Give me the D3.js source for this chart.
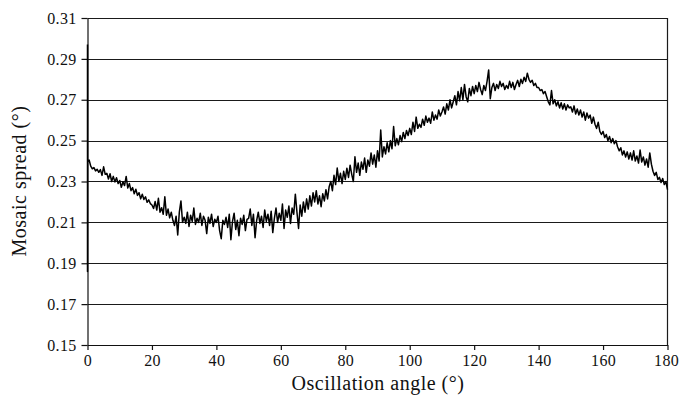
<!DOCTYPE html>
<html>
<head>
<meta charset="utf-8">
<script src="https://cdn.jsdelivr.net/npm/d3@7"></script>
<style>
  html, body { margin: 0; padding: 0; background: #fff; }
  svg { display: block; }
  text { font-family: "Liberation Serif", "Times New Roman", serif; fill: #111; }
</style>
</head>
<body>
<div class="chart"></div>
<script>
var svgWidth = 679;
var svgHeight = 404;

// tick labels
var xTicks = [0, 20, 40, 60, 80, 100, 120, 140, 160, 180];
var yTicks = [0.15, 0.17, 0.19, 0.21, 0.23, 0.25, 0.27, 0.29, 0.31];

// first readings at 0 deg (spike along the axis)
var startAngles = [0, 0];
var startSpread = [0.297, 0.186];

// main series, one reading every 0.5 deg from 0 to 180
var angleStart = 0;
var angleStep = 0.5;
var spread = [
    // 0 - 9.5
    0.2395, 0.2405, 0.2375, 0.2362, 0.2368, 0.2352, 0.2360, 0.2345, 0.2358, 0.2330,
    0.2372, 0.2335, 0.2340, 0.2312, 0.2338, 0.2300, 0.2325, 0.2298, 0.2318, 0.2290,
    // 10 - 19.5
    0.2305, 0.2272, 0.2298, 0.2280, 0.2325, 0.2268, 0.2290, 0.2255, 0.2270, 0.2240,
    0.2262, 0.2232, 0.2245, 0.2215, 0.2238, 0.2212, 0.2225, 0.2198, 0.2210, 0.2192,
    // 20 - 29.5
    0.2185, 0.2168, 0.2202, 0.2160, 0.2218, 0.2150, 0.2172, 0.2140, 0.2225, 0.2135,
    0.2165, 0.2122, 0.2150, 0.2110, 0.2085, 0.2130, 0.2038, 0.2150, 0.2205, 0.2100,
    // 30 - 39.5
    0.2125, 0.2095, 0.2150, 0.2080, 0.2135, 0.2105, 0.2170, 0.2090, 0.2120, 0.2100,
    0.2145, 0.2085, 0.2130, 0.2110, 0.2045, 0.2125, 0.2095, 0.2140, 0.2080, 0.2115,
    // 40 - 49.5
    0.2100, 0.2130, 0.2060, 0.2020, 0.2110, 0.2090, 0.2125, 0.2075, 0.2140, 0.2015,
    0.2105, 0.2145, 0.2065, 0.2110, 0.2035, 0.2120, 0.2090, 0.2135, 0.2060, 0.2115,
    // 50 - 59.5
    0.2120, 0.2165, 0.2085, 0.2140, 0.2025, 0.2110, 0.2150, 0.2095, 0.2130, 0.2075,
    0.2160, 0.2105, 0.2140, 0.2085, 0.2155, 0.2050, 0.2120, 0.2170, 0.2100, 0.2145,
    // 60 - 69.5
    0.2110, 0.2190, 0.2070, 0.2160, 0.2125, 0.2180, 0.2095, 0.2170, 0.2140, 0.2238,
    0.2150, 0.2070, 0.2185, 0.2130, 0.2200, 0.2150, 0.2215, 0.2165, 0.2230, 0.2180,
    // 70 - 79.5
    0.2245, 0.2200, 0.2255, 0.2190, 0.2230, 0.2177, 0.2240, 0.2205, 0.2260, 0.2215,
    0.2275, 0.2300, 0.2255, 0.2330, 0.2285, 0.2366, 0.2300, 0.2340, 0.2290, 0.2350,
    // 80 - 89.5
    0.2310, 0.2365, 0.2320, 0.2380, 0.2335, 0.2300, 0.2421, 0.2345, 0.2390, 0.2330,
    0.2395, 0.2360, 0.2415, 0.2345, 0.2405, 0.2375, 0.2440, 0.2385, 0.2430, 0.2370,
    // 90 - 99.5
    0.2450, 0.2400, 0.2552, 0.2420, 0.2470, 0.2435, 0.2490, 0.2445, 0.2500, 0.2460,
    0.2569, 0.2475, 0.2510, 0.2480, 0.2525, 0.2495, 0.2540, 0.2510, 0.2550, 0.2525,
    // 100 - 109.5
    0.2560, 0.2530, 0.2590, 0.2545, 0.2615, 0.2560, 0.2580, 0.2565, 0.2605, 0.2575,
    0.2620, 0.2590, 0.2610, 0.2585, 0.2640, 0.2600, 0.2625, 0.2605, 0.2650, 0.2620,
    // 110 - 119.5
    0.2640, 0.2665, 0.2630, 0.2680, 0.2650, 0.2700, 0.2660, 0.2690, 0.2720, 0.2675,
    0.2740, 0.2695, 0.2760, 0.2700, 0.2775, 0.2715, 0.2690, 0.2755, 0.2720, 0.2765,
    // 120 - 129.5
    0.2730, 0.2770, 0.2740, 0.2785, 0.2750, 0.2725, 0.2770, 0.2745, 0.2790, 0.2846,
    0.2705, 0.2760, 0.2780, 0.2745, 0.2775, 0.2755, 0.2790, 0.2765, 0.2780, 0.2750,
    // 130 - 139.5
    0.2770, 0.2755, 0.2790, 0.2760, 0.2785, 0.2750, 0.2775, 0.2795, 0.2765, 0.2800,
    0.2780, 0.2810, 0.2790, 0.2830, 0.2800, 0.2785, 0.2795, 0.2770, 0.2780, 0.2760,
    // 140 - 149.5
    0.2760, 0.2745, 0.2750, 0.2730, 0.2740, 0.2715, 0.2690, 0.2675, 0.2745, 0.2680,
    0.2700, 0.2670, 0.2690, 0.2660, 0.2685, 0.2655, 0.2680, 0.2650, 0.2675, 0.2660,
    // 150 - 159.5
    0.2665, 0.2640, 0.2670, 0.2630, 0.2655, 0.2625, 0.2650, 0.2615, 0.2640, 0.2600,
    0.2635, 0.2610, 0.2625, 0.2585, 0.2615, 0.2580, 0.2560, 0.2590, 0.2545, 0.2530,
    // 160 - 169.5
    0.2545, 0.2515, 0.2530, 0.2500, 0.2520, 0.2490, 0.2510, 0.2485, 0.2500, 0.2470,
    0.2450, 0.2465, 0.2430, 0.2450, 0.2420, 0.2445, 0.2410, 0.2440, 0.2405, 0.2450,
    // 170 - 179.5
    0.2400, 0.2425, 0.2390, 0.2454, 0.2395, 0.2420, 0.2380, 0.2410, 0.2370, 0.2440,
    0.2385, 0.2350, 0.2330, 0.2345, 0.2310, 0.2320, 0.2295, 0.2315, 0.2285, 0.2300,
    // 180
    0.2260
];

var points = [];
for (var i = 0; i < startAngles.length; i++) {
    points.push({ angle: startAngles[i], value: startSpread[i] });
}
for (var j = 0; j < spread.length; j++) {
    points.push({ angle: angleStart + j * angleStep, value: spread[j] });
}

var x = d3.scaleLinear().domain([0, 180]).range([87.5, 667.5]);
var y = d3.scaleLinear().domain([0.15, 0.31]).range([345, 18]);

var svg = d3.select('.chart').append('svg')
    .attr('width', svgWidth)
    .attr('height', svgHeight);

// horizontal grid lines
svg.append('g')
    .selectAll('line')
    .data(yTicks.filter(function(d) { return d > 0.15; }))
    .enter()
    .append('line')
    .attr('x1', x(0))
    .attr('x2', x(180))
    .attr('y1', function(d) { return Math.round(y(d)) + 0.5; })
    .attr('y2', function(d) { return Math.round(y(d)) + 0.5; })
    .attr('stroke', '#1a1a1a')
    .attr('stroke-width', 1.2);

// right border
svg.append('line')
    .attr('x1', x(180)).attr('x2', x(180))
    .attr('y1', y(0.31)).attr('y2', y(0.15))
    .attr('stroke', '#1a1a1a')
    .attr('stroke-width', 1.2);

// y axis
var yAxis = d3.axisLeft(y)
    .tickValues(yTicks)
    .tickFormat(d3.format('.2f'))
    .tickSize(6)
    .tickSizeOuter(0)
    .tickPadding(5);

var gy = svg.append('g')
    .attr('transform', 'translate(' + x(0) + ',0)')
    .call(yAxis);

// x axis
var xAxis = d3.axisBottom(x)
    .tickValues(xTicks)
    .tickSize(5)
    .tickSizeOuter(0)
    .tickPadding(5);

var gx = svg.append('g')
    .attr('transform', 'translate(0,' + y(0.15) + ')')
    .call(xAxis);

[gx, gy].forEach(function(g) {
    g.selectAll('path, line').attr('stroke', '#111').attr('stroke-width', 1.2);
    g.selectAll('text')
        .attr('font-size', '16px')
        .attr('letter-spacing', '0.3px')
        .attr('fill', '#111');
});

// keep the last x label inside the page
gx.selectAll('.tick text')
    .filter(function(d) { return d === 180; })
    .attr('text-anchor', 'end')
    .attr('x', 11);

// data line
var line = d3.line()
    .x(function(d) { return x(d.angle); })
    .y(function(d) { return y(d.value); });

svg.append('path')
    .datum(points)
    .attr('d', line)
    .attr('fill', 'none')
    .attr('stroke', '#000')
    .attr('stroke-width', 1.5)
    .attr('stroke-linejoin', 'round');

// axis titles
svg.append('text')
    .text('Oscillation angle (°)')
    .attr('x', 378)
    .attr('y', 390)
    .attr('text-anchor', 'middle')
    .attr('font-size', '20px')
    .attr('letter-spacing', '0.5px');

svg.append('text')
    .text('Mosaic spread (°)')
    .attr('transform', 'translate(26,181) rotate(-90)')
    .attr('text-anchor', 'middle')
    .attr('font-size', '20px')
    .attr('letter-spacing', '0.5px');
</script>
</body>
</html>
